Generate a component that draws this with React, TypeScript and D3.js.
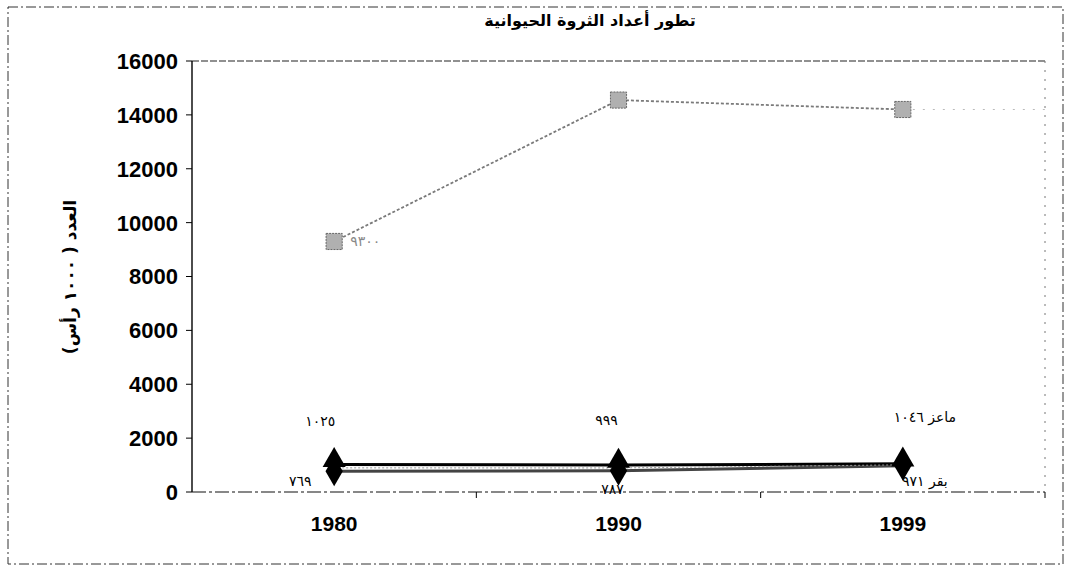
import React from "react";
import * as d3 from "d3";

const years = ["1980", "1990", "1999"];
const sheep = [9300, 14550, 14200];
const goats = [1025, 999, 1046];
const cattle = [769, 787, 971];
const goatLabels = ["١٠٢٥", "٩٩٩", "ماعز ١٠٤٦"];
const cattleLabels = ["٧٦٩", "٧٨٧", "بقر ٩٧١"];
const sheepLabels = ["٩٣٠٠", "", ""];
const yTicks = [0, 2000, 4000, 6000, 8000, 10000, 12000, 14000, 16000];
const title = "تطور أعداد الثروة الحيوانية";
const yTitle = "العدد ( ١٠٠٠ رأس)";

const W = 1071;
const H = 570;
const M = { left: 192, right: 1045, top: 61, bottom: 492 };

// label offsets (dx, dy) relative to the point, in px
const goatLabelOffset = [[-14, -38], [-12, -40], [22, -42]];
const cattleLabelOffset = [[-34, 15], [-6, 23], [22, 20]];

export default function App() {
  const x = d3.scaleBand<string>().domain(years).range([M.left, M.right]);
  const cx = (d: string) => (x(d) as number) + x.bandwidth() / 2;
  const y = d3.scaleLinear().domain([0, 16000]).range([M.bottom, M.top]);
  const line = d3
    .line<number>()
    .x((_, i) => cx(years[i]))
    .y((v) => y(v));
  const arial = "'Liberation Sans', Arial, sans-serif";
  const arab = "'DejaVu Sans', sans-serif";
  const tri = d3.symbol(d3.symbolTriangle, 230)() as string;
  const dia = d3.symbol(d3.symbolDiamond, 260)() as string;
  const sq = d3.symbol(d3.symbolSquare, 260)() as string;

  return (
    <svg width={W} height={H} style={{ position: "absolute", left: 0, top: 0, background: "#fff" }}>
      <rect x={8} y={7} width={1055} height={557} fill="none" stroke="#333" strokeWidth={1} strokeDasharray="10 3 2 3" />
      <text x={590} y={26} textAnchor="middle" fontFamily={arab} fontWeight="bold" fontSize={16} direction="rtl">
        {title}
      </text>
      {/* plot frame top & right (dotted) */}
      <line x1={M.left} x2={M.right} y1={M.top} y2={M.top} stroke="#222" strokeWidth={1.2} strokeDasharray="7 2" />
      <line x1={M.right} x2={M.right} y1={M.top} y2={M.bottom} stroke="#777" strokeDasharray="2 7" />
      {/* y axis */}
      <line x1={M.left} x2={M.left} y1={M.top} y2={M.bottom} stroke="#000" strokeWidth={1.4} />
      {yTicks.map((t) => (
        <g key={t}>
          <line x1={M.left - 6} x2={M.left} y1={y(t)} y2={y(t)} stroke="#000" />
          <text x={M.left - 14} y={y(t)} dy="0.36em" textAnchor="end" fontFamily={arial} fontWeight="bold" fontSize={22}>
            {t}
          </text>
        </g>
      ))}
      {/* x axis */}
      <line x1={M.left} x2={M.right} y1={M.bottom} y2={M.bottom} stroke="#111" strokeWidth={1.2} strokeDasharray="14 3 3 3" />
      {years.map((yr) => (
        <g key={yr}>
          <line x1={(x(yr) as number) + x.bandwidth()} x2={(x(yr) as number) + x.bandwidth()} y1={M.bottom} y2={M.bottom + 6} stroke="#000" />
          <text x={cx(yr)} y={M.bottom + 39} textAnchor="middle" fontFamily={arial} fontWeight="bold" fontSize={21}>
            {yr}
          </text>
        </g>
      ))}
      <text
        transform={`translate(76, ${277}) rotate(-90)`}
        textAnchor="middle"
        fontFamily={arab}
        fontWeight="bold"
        fontSize={17}
        direction="rtl"
      >
        {yTitle}
      </text>
      {/* sheep */}
      <path d={line(sheep) as string} fill="none" stroke="#7a7a7a" strokeWidth={1.8} strokeDasharray="3 2" />
      <line x1={cx(years[2])} x2={M.right} y1={y(sheep[2])} y2={y(sheep[2])} stroke="#bbb" strokeDasharray="2 8" />
      {sheep.map((v, i) => (
        <path key={i} d={sq} transform={`translate(${cx(years[i])},${y(v)})`} fill="#b0b0b0" stroke="#666" strokeDasharray="2 1" />
      ))}
      {sheepLabels.map((l, i) =>
        l ? (
          <text key={"s" + i} x={cx(years[i]) + 16} y={y(sheep[i]) + 5} fontFamily={arab} fontSize={14} letterSpacing={6} fill="#888">
            {l}
          </text>
        ) : null
      )}
      {/* cattle */}
      <path d={line(cattle) as string} fill="none" stroke="#444" strokeWidth={3} />
      {/* goats */}
      <path d={line(goats) as string} fill="none" stroke="#000" strokeWidth={3} />
      <path d={line(goats.map((g, i) => (g + cattle[i]) / 2)) as string} fill="none" stroke="#999" strokeWidth={1} strokeDasharray="2 2" />
      {cattle.map((v, i) => (
        <path key={"c" + i} d={dia} transform={`translate(${cx(years[i])},${y(v)})`} fill="#000" />
      ))}
      {goats.map((v, i) => (
        <path key={"g" + i} d={tri} transform={`translate(${cx(years[i])},${y(v) - 4})`} fill="#000" />
      ))}
      {goatLabels.map((l, i) => (
        <text key={"gl" + i} x={cx(years[i]) + goatLabelOffset[i][0]} y={y(goats[i]) + goatLabelOffset[i][1]} textAnchor="middle" fontFamily={arab} fontSize={14} letterSpacing={2} direction="rtl">
          {l}
        </text>
      ))}
      {cattleLabels.map((l, i) => (
        <text key={"cl" + i} x={cx(years[i]) + cattleLabelOffset[i][0]} y={y(cattle[i]) + cattleLabelOffset[i][1]} textAnchor="middle" fontFamily={arab} fontSize={14} letterSpacing={2} direction="rtl">
          {l}
        </text>
      ))}
    </svg>
  );
}
